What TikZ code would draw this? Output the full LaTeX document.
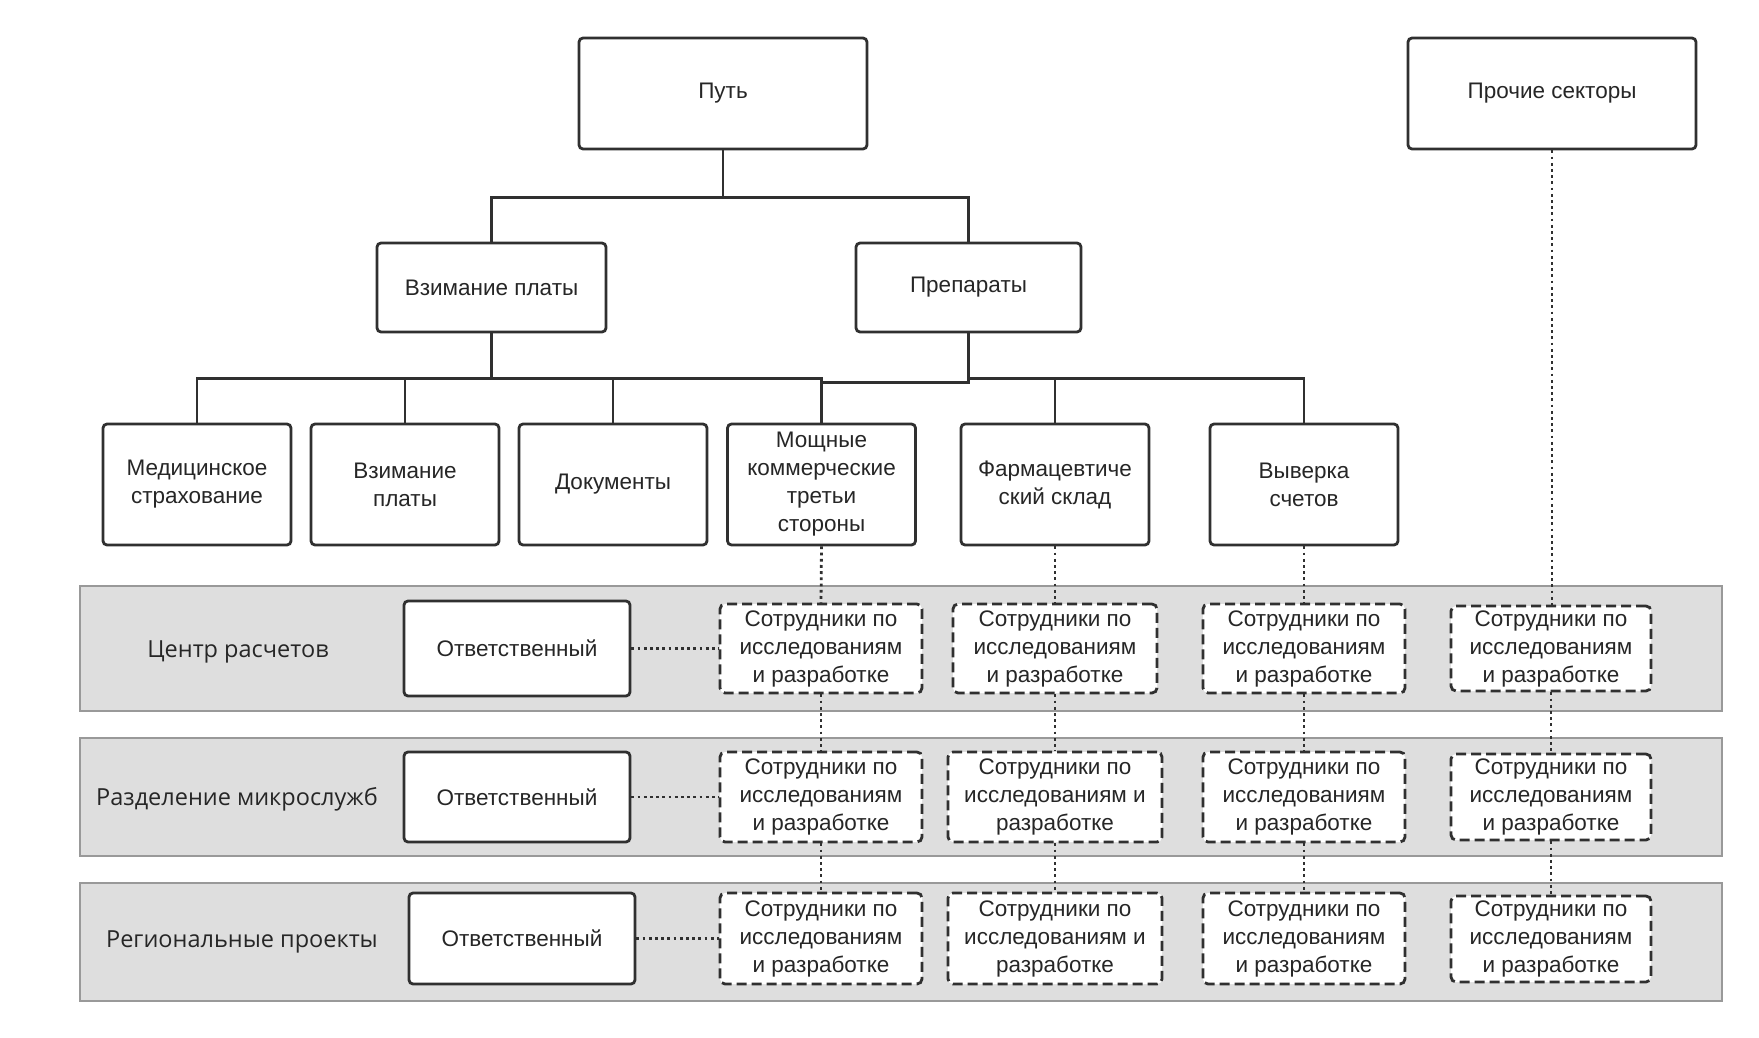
\documentclass[tikz,border=0pt]{standalone}
\usepackage{fontspec}
\setmainfont{Liberation Sans}
\newfontfamily\lanefont{Open Sans}
\definecolor{ink}{HTML}{303030}
\definecolor{txt}{HTML}{262626}
\definecolor{lanefill}{HTML}{DEDEDE}
\definecolor{laneedge}{HTML}{999999}
\begin{document}
\begin{tikzpicture}[x=1pt,y=-1pt,
  box/.style={draw=ink, line width=2.8pt, rounded corners=4pt, fill=white, align=center,
    inner sep=0pt, text=txt, font=\fontsize{22.5}{28}\selectfont},
  rdbox/.style={box, dash pattern=on 10pt off 5pt, rounded corners=5pt},
  lane/.style={draw=laneedge, line width=2.4pt, fill=lanefill},
  lanelabel/.style={text=txt, font=\lanefont\fontsize{23.5}{28}\selectfont, inner sep=0pt},
  tree/.style={draw=ink, line width=2.8pt},
  dotline/.style={draw=ink, line width=2.8pt, dash pattern=on 2.8pt off 3.4pt}]
\useasboundingbox (0,0) rectangle (1759,1038);

% lanes
\path[lane] (80,586) rectangle (1722,711);
\path[lane] (80,738) rectangle (1722,856);
\path[lane] (80,883) rectangle (1722,1001);
\node[lanelabel] (l1) at (238,652) {Центр расчетов};
\node[lanelabel] (l2) at (237,799) {Разделение микрослужб};
\node[lanelabel] (l3) at (242,942) {Региональные проекты};

% top levels
\node[box, minimum width=288pt, minimum height=111pt] (put) at (723,93.5) {Путь};
\node[box, minimum width=288pt, minimum height=111pt] (other) at (1552,93.5) {Прочие секторы};
\node[box, minimum width=229pt, minimum height=89pt] (vzt) at (491.5,287.5) {Взимание платы};
\node[box, minimum width=225pt, minimum height=89pt] (prep) at (968.5,287.5) {Препараты};

% level 3
\node[box, minimum width=188pt, minimum height=121pt] (med) at (197,484.5) {Медицинское\\страхование};
\node[box, minimum width=188pt, minimum height=121pt] (vz) at (405,484.5) {Взимание\\платы};
\node[box, minimum width=188pt, minimum height=121pt] (doc) at (613,484.5) {Документы};
\node[box, minimum width=188pt, minimum height=121pt] (mosh) at (821.5,484.5) {Мощные\\коммерческие\\третьи\\стороны};
\node[box, minimum width=188pt, minimum height=121pt] (farm) at (1055,484.5) {Фармацевтиче\\ский склад};
\node[box, minimum width=188pt, minimum height=121pt] (vyv) at (1304,484.5) {Выверка\\счетов};

% tree connectors
\draw[tree] (put.south) -- ++(0,47) -| (vzt.north);
\draw[tree] (put.south) -- ++(0,47) -| (prep.north);
\draw[tree] (vzt.south) -- ++(0,45) -| (med.north);
\draw[tree] (vzt.south) -- ++(0,45) -| (vz.north);
\draw[tree] (vzt.south) -- ++(0,45) -| (doc.north);
\draw[tree] (vzt.south) -- ++(0,45) -| (mosh.north);
\draw[tree] (prep.south) -- ++(0,49) -| (mosh.north);
\draw[tree] (prep.south) -- ++(0,45) -| (farm.north);
\draw[tree] (prep.south) -- ++(0,45) -| (vyv.north);

% responsible boxes
\node[box, minimum width=226pt, minimum height=95pt] (resp1) at (517,648.5) {Ответственный};
\node[box, minimum width=226pt, minimum height=90pt] (resp2) at (517,797) {Ответственный};
\node[box, minimum width=226pt, minimum height=91pt] (resp3) at (522,938.5) {Ответственный};

% R&D boxes
\node[rdbox, minimum width=202pt, minimum height=89pt] (r11) at (821,648.5) {Сотрудники по\\исследованиям\\и разработке};
\node[rdbox, minimum width=202pt, minimum height=90pt] (r12) at (821,797) {Сотрудники по\\исследованиям\\и разработке};
\node[rdbox, minimum width=202pt, minimum height=91pt] (r13) at (821,938.5) {Сотрудники по\\исследованиям\\и разработке};
\node[rdbox, minimum width=204pt, minimum height=89pt] (r21) at (1055,648.5) {Сотрудники по\\исследованиям\\и разработке};
\node[rdbox, minimum width=214pt, minimum height=90pt] (r22) at (1055,797) {Сотрудники по\\исследованиям и\\разработке};
\node[rdbox, minimum width=214pt, minimum height=91pt] (r23) at (1055,938.5) {Сотрудники по\\исследованиям и\\разработке};
\node[rdbox, minimum width=202pt, minimum height=89pt] (r31) at (1304,648.5) {Сотрудники по\\исследованиям\\и разработке};
\node[rdbox, minimum width=202pt, minimum height=90pt] (r32) at (1304,797) {Сотрудники по\\исследованиям\\и разработке};
\node[rdbox, minimum width=202pt, minimum height=91pt] (r33) at (1304,938.5) {Сотрудники по\\исследованиям\\и разработке};
\node[rdbox, minimum width=200pt, minimum height=85pt] (r41) at (1551,648.5) {Сотрудники по\\исследованиям\\и разработке};
\node[rdbox, minimum width=200pt, minimum height=86pt] (r42) at (1551,797) {Сотрудники по\\исследованиям\\и разработке};
\node[rdbox, minimum width=200pt, minimum height=86pt] (r43) at (1551,939) {Сотрудники по\\исследованиям\\и разработке};

% dotted connectors
\draw[dotline] (resp1.east) -- (r11.west);
\draw[dotline] (resp2.east) -- (r12.west);
\draw[dotline] (resp3.east) -- (r13.west);
\draw[dotline] (mosh.south) -- (r11.north);
\draw[dotline] (r11.south) -- (r12.north);
\draw[dotline] (r12.south) -- (r13.north);
\draw[dotline] (farm.south) -- (r21.north);
\draw[dotline] (r21.south) -- (r22.north);
\draw[dotline] (r22.south) -- (r23.north);
\draw[dotline] (vyv.south) -- (r31.north);
\draw[dotline] (r31.south) -- (r32.north);
\draw[dotline] (r32.south) -- (r33.north);
\draw[dotline] (other.south) -- (other.south |- r41.north);
\draw[dotline] (r41.south) -- (r42.north);
\draw[dotline] (r42.south) -- (r43.north);
\end{tikzpicture}
\end{document}
